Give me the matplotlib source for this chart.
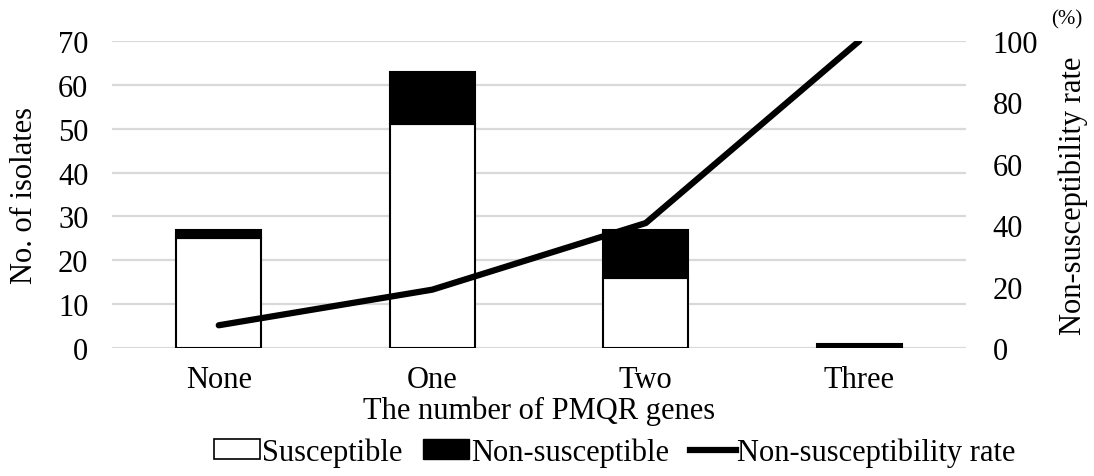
import numpy as np
import matplotlib.pyplot as plt
from matplotlib.patches import Patch
from matplotlib.lines import Line2D

plt.rcParams['font.family'] = ['Liberation Serif', 'DejaVu Serif']

categories = ['None', 'One', 'Two', 'Three']
susceptible = [25, 51, 16, 0]
non_susceptible = [2, 12, 11, 1]
rate_pct = [7.4, 19.0, 40.7, 100.0]

fs = 22
x = np.arange(len(categories))
bar_w = 0.40

W, H = 1094, 477
fig = plt.figure(figsize=(W / 100, H / 100), dpi=100)
L, R, T, B = 112, 966, 42, 349
ax = fig.add_axes([L / W, 1 - B / H, (R - L) / W, (B - T) / H])
ax2 = ax.twinx()

ax.bar(x, susceptible, bar_w, color='white', edgecolor='black', linewidth=1.5, zorder=3)
ax.bar(x, non_susceptible, bar_w, bottom=susceptible, color='black', edgecolor='black',
       linewidth=1.5, zorder=3)
ax2.plot(x, rate_pct, color='black', linewidth=4.5, solid_capstyle='round', zorder=4)

ax.set_xlim(-0.5, len(categories) - 0.5)
ax.set_ylim(0, 70)
ax.set_yticks(np.arange(0, 71, 10))
ax2.set_ylim(0, 100)
ax2.set_yticks(np.arange(0, 101, 20))
ax.yaxis.grid(True, color='#d9d9d9', linewidth=1.6, zorder=0)
ax.set_axisbelow(True)

for a in (ax, ax2):
    for s in a.spines.values():
        s.set_visible(False)
    a.tick_params(length=0, labelsize=fs)
ax.tick_params(axis='y', pad=17)
ax2.tick_params(axis='y', pad=19)
ax.tick_params(axis='x', pad=12)

ax.set_xticks(x)
ax.set_xticklabels(categories)
ax.set_xlabel('The number of PMQR genes', fontsize=fs)
ax.set_ylabel('No. of isolates', fontsize=fs)
ax2.set_ylabel('Non-susceptibility rate', fontsize=fs)
ax.yaxis.set_label_coords((25 - L) / (R - L), 0.5)
ax2.yaxis.set_label_coords((1073 - L) / (R - L), 0.5)
ax.yaxis.label.set_va('center')
ax2.yaxis.label.set_va('center')
ax.xaxis.set_label_coords(0.5, -(411 - B) / (B - T))
ax.xaxis.label.set_va('center')
fig.text(1067 / W, 1 - 20 / H, '(%)', fontsize=15, ha='center', va='center')

handles = [Patch(facecolor='white', edgecolor='black', linewidth=1.2),
           Patch(facecolor='black', edgecolor='black'),
           Line2D([0], [0], color='black', linewidth=4.5)]
fig.legend(handles, ['Susceptible', 'Non-susceptible', 'Non-susceptibility rate'],
           loc='center', bbox_to_anchor=(615 / W, 1 - 453 / H), ncol=3, frameon=False,
           fontsize=fs, handlelength=1.5, handleheight=0.6, handletextpad=0.05,
           columnspacing=0.7)

fig.savefig('out.png', dpi=100)
